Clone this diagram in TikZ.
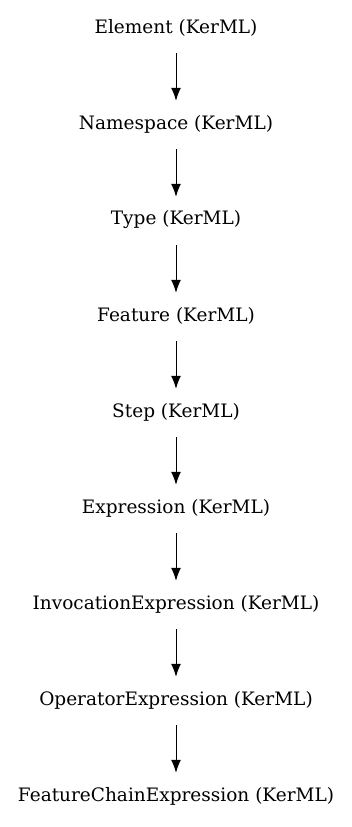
\documentclass[tikz,border=0pt]{standalone}
\usepackage{fontspec}
\setmainfont{DejaVu Serif}
\usepackage{tikz}
\usetikzlibrary{arrows.meta}

\tikzset{
  cls/.style={minimum height=46pt, inner sep=0pt, font=\fontsize{18.5}{22}\selectfont},
  gen/.style={-{Latex[length=13pt,width=10pt]}, line width=1pt}
}

\begin{document}
\begin{tikzpicture}
	\useasboundingbox (0,0) rectangle (352pt,827pt);
	\foreach \name/\txt [count=\i from 0] in {el/Element, ns/Namespace, ty/Type, fe/Feature, st/Step, ex/Expression, ie/InvocationExpression, oe/OperatorExpression, fce/FeatureChainExpression}
		\node[cls] (\name) at (176pt,{827pt-28pt-96pt*\i}) {\txt\ (KerML)};
	\foreach \a/\b in {el/ns, ns/ty, ty/fe, fe/st, st/ex, ex/ie, ie/oe, oe/fce}
		\draw[gen,shorten <=2pt] (\a) -- (\b);
\end{tikzpicture}
\end{document}
